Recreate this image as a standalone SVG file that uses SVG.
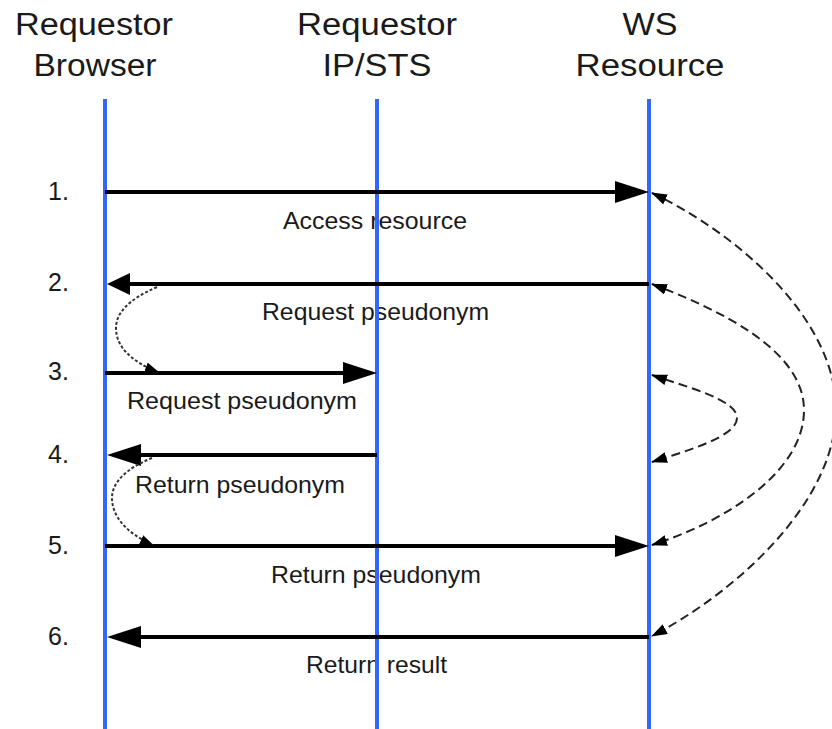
<svg xmlns="http://www.w3.org/2000/svg" width="832" height="729" viewBox="0 0 832 729">
  <style>
    .hdr { font-family: "Liberation Sans", Arial, sans-serif; font-size: 31px; fill: #1a1a1a; text-anchor: middle; }
    .lbl { font-family: "Liberation Sans", Arial, sans-serif; font-size: 24px; fill: #1a1a1a; }
    .num { font-family: "Liberation Sans", Arial, sans-serif; font-size: 25px; fill: #1a1a1a; }
    .life { stroke: #3366ff; stroke-width: 4; fill: none; }
    .msg { stroke: #000; stroke-width: 4; fill: none; }
    .dash { stroke: #222; stroke-width: 2; fill: none; stroke-dasharray: 9 5; marker-start: url(#dhead); marker-end: url(#dhead); }
    .dot { stroke: #333; stroke-width: 2; fill: none; stroke-dasharray: 3 2; marker-end: url(#ohead); }
  </style>
  <defs>
    <marker id="head" markerUnits="userSpaceOnUse" markerWidth="36" markerHeight="24" refX="22" refY="11" orient="auto">
      <path d="M0,0 L34,11 L0,22 z" fill="#000"/>
    </marker>
    <marker id="headS" markerUnits="userSpaceOnUse" markerWidth="26" markerHeight="24" refX="11" refY="11" orient="auto">
      <path d="M0,0 L23,11 L0,22 z" fill="#000"/>
    </marker>
    <marker id="dhead" markerUnits="userSpaceOnUse" markerWidth="18" markerHeight="12" refX="15" refY="5.5" orient="auto-start-reverse">
      <path d="M0,0 L16,5.5 L0,11 z" fill="#000"/>
    </marker>
    <marker id="ohead" markerUnits="userSpaceOnUse" markerWidth="16" markerHeight="12" refX="13" refY="5" orient="auto">
      <path d="M0,0 L14,5 L0,10 z" fill="#000"/>
    </marker>
  </defs>

  <rect x="0" y="0" width="832" height="729" fill="#ffffff"/>

  <g id="step-numbers">
    <text class="num" x="48" y="200">1.</text>
    <text class="num" x="48" y="291">2.</text>
    <text class="num" x="48" y="380">3.</text>
    <text class="num" x="48" y="463">4.</text>
    <text class="num" x="48" y="554">5.</text>
    <text class="num" x="48" y="645">6.</text>
  </g>

  <g id="message-labels">
    <text class="lbl" x="283" y="229" textLength="184" lengthAdjust="spacingAndGlyphs">Access resource</text>
    <text class="lbl" x="262" y="320" textLength="227" lengthAdjust="spacingAndGlyphs">Request pseudonym</text>
    <text class="lbl" x="127" y="409" textLength="230" lengthAdjust="spacingAndGlyphs">Request pseudonym</text>
    <text class="lbl" x="135" y="493" textLength="210" lengthAdjust="spacingAndGlyphs">Return pseudonym</text>
    <text class="lbl" x="271" y="583" textLength="210" lengthAdjust="spacingAndGlyphs">Return pseudonym</text>
    <text class="lbl" x="306" y="673" textLength="141" lengthAdjust="spacingAndGlyphs">Return result</text>
  </g>

  <g id="requestor-browser">
    <text class="hdr" x="94" y="35" textLength="158" lengthAdjust="spacingAndGlyphs">Requestor</text>
    <text class="hdr" x="95" y="76" textLength="123" lengthAdjust="spacingAndGlyphs">Browser</text>
    <line class="life" x1="105" y1="99" x2="105" y2="729"/>
  </g>

  <g id="requestor-ip-sts">
    <text class="hdr" x="377" y="35" textLength="160" lengthAdjust="spacingAndGlyphs">Requestor</text>
    <text class="hdr" x="377" y="76" textLength="109" lengthAdjust="spacingAndGlyphs">IP/STS</text>
    <line class="life" x1="377" y1="99" x2="377" y2="729"/>
  </g>

  <g id="ws-resource">
    <text class="hdr" x="650" y="35" textLength="55" lengthAdjust="spacingAndGlyphs">WS</text>
    <text class="hdr" x="650" y="76" textLength="149" lengthAdjust="spacingAndGlyphs">Resource</text>
    <line class="life" x1="649" y1="99" x2="649" y2="729"/>
  </g>

  <g id="connectors">
    <line class="msg" x1="105" y1="192" x2="637" y2="192" marker-end="url(#head)"/>
    <line class="msg" x1="649" y1="284" x2="119" y2="284" marker-end="url(#headS)"/>
    <line class="msg" x1="105" y1="373" x2="365" y2="373" marker-end="url(#head)"/>
    <line class="msg" x1="377" y1="455" x2="119" y2="455" marker-end="url(#head)"/>
    <line class="msg" x1="105" y1="546" x2="637" y2="546" marker-end="url(#head)"/>
    <line class="msg" x1="649" y1="637" x2="119" y2="637" marker-end="url(#head)"/>

    <path class="dot" d="M157,287 C127,300 116,314 116,328 C116,346 130,361 158,372"/>
    <path class="dot" d="M152,458 C125,469 112,483 112,498 C112,516 126,533 153,545"/>

    <path class="dash" d="M652,193 C740,235 836,320 836,410 C836,500 740,590 652,636"/>
    <path class="dash" d="M652,284 C720,310 804,350 804,410 C804,470 730,520 652,545"/>
    <path class="dash" d="M652,375 C690,388 737,400 737,418 C737,436 690,450 652,462"/>
  </g>
</svg>
